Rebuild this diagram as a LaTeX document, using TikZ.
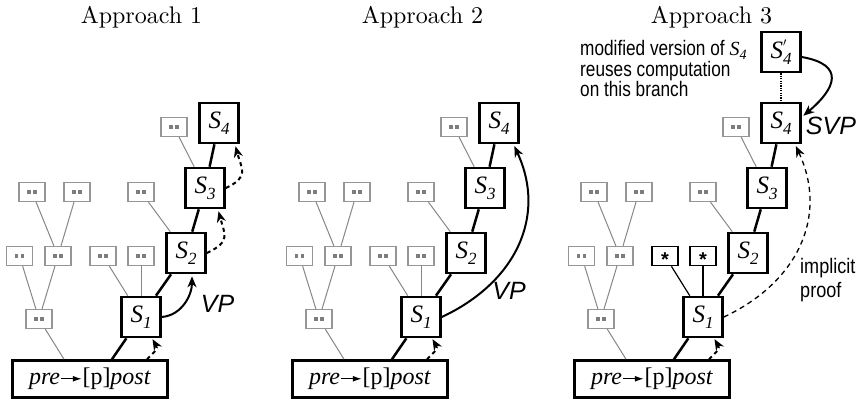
\documentclass[tikz,border=0pt]{standalone}
\usepackage{fontspec}
\newfontfamily\tms{Liberation Serif}
\newfontfamily\hel{Liberation Sans}
\newfontfamily\heln[FakeStretch=0.82]{Liberation Sans}
\newfontfamily\helm[FakeStretch=0.86]{Liberation Sans}
\newfontfamily\lmten{lmroman10-regular.otf}
\usetikzlibrary{arrows.meta}

\definecolor{boxgray}{RGB}{150,150,150}
\definecolor{dotgray}{RGB}{125,125,125}
\definecolor{linegray}{RGB}{135,135,135}

\newcommand\Sx[1]{{\tms\fontsize{25}{25}\selectfont\textit{S}\raisebox{-6pt}{\fontsize{17}{17}\selectfont\textit{#1}}}}
\newcommand\Sxp[1]{{\tms\fontsize{25}{25}\selectfont\textit{S}\makebox[0pt][l]{\raisebox{11.5pt}{\fontsize{13}{13}\selectfont$\prime$}}\raisebox{-6pt}{\fontsize{17}{17}\selectfont\textit{#1}}}}
\newcommand\Sin[1]{{\tms\fontsize{20}{20}\selectfont\textit{S}\raisebox{-4pt}{\fontsize{14}{14}\selectfont\textit{#1}}}}
\newcommand\dd{\textcolor{dotgray}{\rule{3.3pt}{3.3pt}\hspace{2.6pt}\rule{3.3pt}{3.3pt}}}
\newcommand\startext{{\hel\bfseries\fontsize{20}{20}\selectfont\raisebox{-10.5pt}[0pt][0pt]{*}}}
\newcommand\prepost{{\tms\fontsize{24}{24}\selectfont\textit{pre}\tikz[baseline=-6pt]\draw[line width=1.4pt,-{Latex[length=9pt,width=6pt]}] (0pt,0pt)--(21pt,0pt);[p]\textit{post}}}

\tikzset{
  sbox/.style={draw, line width=2.6pt, minimum width=39pt, minimum height=40pt, inner sep=0pt, fill=white},
  basebox/.style={draw, line width=2.6pt, minimum width=155pt, minimum height=37pt, inner sep=0pt, fill=white},
  gbox/.style={draw=boxgray, line width=1.3pt, minimum width=26pt, minimum height=19pt, inner sep=0pt, fill=white},
  starbox/.style={draw, line width=1.6pt, minimum width=26pt, minimum height=19pt, inner sep=0pt, fill=white},
  gline/.style={draw=linegray, line width=1pt},
  bline/.style={line width=2.5pt},
  tline/.style={line width=1.2pt},
  tip/.style={-{Stealth[length=11pt,width=9pt,inset=3.5pt]}},
  darrow/.style={tip, line width=2pt, dash pattern=on 4pt off 3.5pt, shorten >=1pt},
  varrow/.style={tip, line width=2pt, shorten >=2pt},
  iarrow/.style={tip, line width=1.3pt, dash pattern=on 5pt off 4pt, shorten >=2pt},
  title/.style={font=\lmten\fontsize{24}{28}\selectfont, anchor=base, inner sep=0pt},
  lab/.style={font=\hel\itshape\fontsize{25}{25}\selectfont, inner sep=0pt},
  note/.style={font=\heln\fontsize{21}{19}\selectfont, align=left, anchor=north west, inner sep=0pt},
}

\newcommand\mytree[1]{%
  \node[basebox] (#1b) at (90,-379) {\prepost};
  \node[sbox] (#1s1) at (141,-317) {\Sx{1}};
  \node[sbox] (#1s2) at (186,-253) {\Sx{2}};
  \node[sbox] (#1s3) at (205,-188) {\Sx{3}};
  \node[sbox] (#1s4) at (219,-123) {\Sx{4}};
  \node[gbox] (#1g1) at (39,-319) {\dd};
  \node[gbox] (#1g2) at (19.5,-256) {\dd};
  \node[gbox] (#1g3) at (58,-256) {\dd};
  \node[gbox] (#1g4) at (32,-192) {\dd};
  \node[gbox] (#1g5) at (77,-192) {\dd};
  \node[gbox] (#1g8) at (141,-192) {\dd};
  \node[gbox] (#1g9) at (174,-127) {\dd};
  \draw[gline] (#1g1) -- ([xshift=-26pt]#1b.north);
  \draw[gline] (#1g2) -- (#1g1);
  \draw[gline] (#1g3) -- (#1g1);
  \draw[gline] (#1g4) -- (#1g3);
  \draw[gline] (#1g5) -- (#1g3);
  \draw[gline] (#1g8) -- (#1s2);
  \draw[gline] (#1g9) -- (#1s3);
  \draw[bline] ([xshift=22pt]#1b.north) -- (#1s1);
  \draw[bline] (#1s1) -- (#1s2);
  \draw[bline] (#1s2) -- (#1s3);
  \draw[bline] (#1s3) -- (#1s4);
  \draw[darrow] ([xshift=57pt]#1b.north) to[out=45,in=-60,looseness=1.5] ([xshift=11pt]#1s1.south);
}

\begin{document}
\begin{tikzpicture}[x=1pt,y=1pt]
\useasboundingbox[fill=white] (0,0) rectangle (859,-402);

% titles
\node[title] (t1) at (141.5,-23) {Approach 1};
\node[title] (t2) at (422.5,-23) {Approach 2};
\node[title] (t3) at (711.5,-23) {Approach 3};

% Approach 1
\mytree{a}
\node[gbox] (ag6) at (103,-256) {\dd};
\node[gbox] (ag7) at (141,-256) {\dd};
\draw[gline] (ag6) -- (as1);
\draw[gline] (ag7) -- (as1);
\draw[varrow] (as1.east) to[out=5,in=-90] ([xshift=6pt]as2.south);
\draw[darrow, shorten >=2pt] (as2.east) to[out=25,in=-75,looseness=1.5] ([xshift=13pt]as3.south);
\draw[darrow, shorten >=2pt] (as3.east) to[out=25,in=-75,looseness=1.5] ([xshift=16pt]as4.south);
\node[lab] (vp1) at (217.5,-304) {VP};

% Approach 2
\begin{scope}[xshift=280pt]
\mytree{b}
\node[gbox] (bg6) at (103,-256) {\dd};
\node[gbox] (bg7) at (141,-256) {\dd};
\draw[gline] (bg6) -- (bs1);
\draw[gline] (bg7) -- (bs1);
\end{scope}
\draw[varrow] (bs1.east) to[out=25,in=-65,looseness=1.1] ([xshift=14.5pt]bs4.south);
\node[lab] (vp2) at (509,-291) {VP};

% Approach 3
\begin{scope}[xshift=562pt]
\mytree{c}
\node[starbox] (cst1) at (103,-256) {\startext};
\node[starbox] (cst2) at (141,-256) {\startext};
\draw[tline] (cst1) -- (cs1);
\draw[tline] (cst2) -- (cs1);
\node[sbox] (cs4p) at (219,-52) {\Sxp{4}};
\end{scope}
\draw[line width=1.5pt, dash pattern=on 1.2pt off 1.2pt] (cs4p) -- (cs4);
\draw[varrow] ([yshift=-5pt]cs4p.east) to[out=-10,in=40,looseness=1.9] ([yshift=6pt]cs4.east);
\node[lab] (svp) at (831,-126) {SVP};
\draw[iarrow] (cs1.east) to[out=25,in=-65,looseness=1.1] ([xshift=14pt]cs4.south);
\node[note] (mod) at (580,-40.5) {modified version of \Sin{4}\\reuses computation\\on this branch};
\node[note, font=\helm\fontsize{21}{24}\selectfont] (impl) at (800,-258) {implicit\\proof};
\end{tikzpicture}
\end{document}
